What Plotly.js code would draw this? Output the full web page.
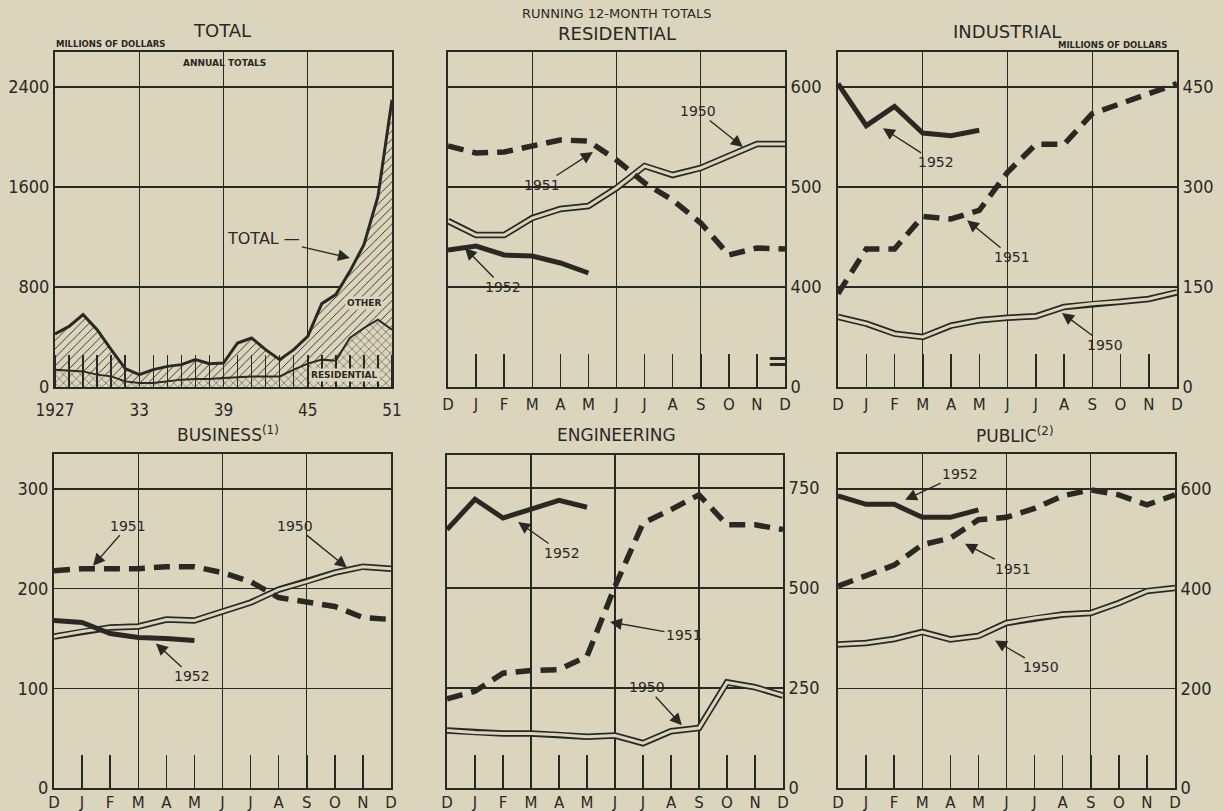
<!DOCTYPE html>
<html><head><meta charset="utf-8">
<script src="https://cdn.plot.ly/plotly-3.0.1.min.js"></script>
<style>html,body{margin:0;padding:0;background:#dcd5bd}</style>
</head><body>
<div id="chart" style="width:1224px;height:811px"></div>
<script>
// ---------- DATA ----------
const years = [1927,1928,1929,1930,1931,1932,1933,1934,1935,1936,1937,1938,1939,1940,1941,1942,1943,1944,1945,1946,1947,1948,1949,1950,1951];
const totalAnnual = [424,485,579,459,299,147,99,139,165,179,219,187,192,352,392,299,219,299,405,667,739,925,1139,1525,2299];
const residentialAnnual = [139,131,125,99,85,45,32,32,45,59,64,64,72,80,85,85,85,139,187,219,211,392,472,539,459];
const yearTickVals = [1927,1933,1939,1945,1951];
const yearTickText = ['1927','33','39','45','51'];

const months = ['D','J','F','M','A','M','J','J','A','S','O','N','D'];

const residential1950 = [466,452,452,469,478,481,499,521,512,519,531,543,543];
const residential1951 = [541,534,535,541,547,546,527,504,487,464,432,439,438];
const residential1952 = [437,441,432,431,424,414];

const industrial1950 = [105,95,80,75,92,100,104,106,120,125,128,132,142];
const industrial1951 = [140,207,207,256,252,265,322,364,364,410,425,440,455];
const industrial1952 = [455,392,421,381,377,385];

const business1950 = [152,157,161,162,169,168,177,186,199,207,216,222,220];
const business1951 = [218,220,220,220,222,222,216,207,191,186,182,171,169];
const business1952 = [168,166,155,151,150,148];

const engineering1950 = [144,139,136,136,133,128,131,112,142,150,264,252,231];
const engineering1951 = [223,242,287,294,296,329,504,662,696,733,658,658,646];
const engineering1952 = [646,722,675,697,719,702];

const public1950 = [288,291,299,313,298,305,331,341,348,351,371,395,401];
const public1951 = [405,425,447,488,501,538,543,561,586,598,588,568,588];
const public1952 = [586,569,569,543,543,558];

// ---------- STYLE ----------
const INK = '#2a2825';
const BG = '#dcd5bd';
const NUMFONT = {family:'DejaVu Sans Condensed, Liberation Sans Narrow, DejaVu Sans, sans-serif', size:18, color:INK};
const MONFONT = {family:'DejaVu Sans, sans-serif', size:15, color:INK};
const LBLFONT = {family:'DejaVu Sans, sans-serif', size:14, color:INK};
const monthIdx = months.map((m,i)=>i);

const traces = [];
// Panel 1
traces.push({x:years, y:residentialAnnual, xaxis:'x', yaxis:'y', type:'scatter', mode:'lines',
  line:{color:INK, width:2}, fill:'tozeroy', fillcolor:BG,
  fillpattern:{shape:'x', fgcolor:INK, bgcolor:BG, size:6, solidity:0.15}, hoverinfo:'skip'});
traces.push({x:years, y:totalAnnual, xaxis:'x', yaxis:'y', type:'scatter', mode:'lines',
  line:{color:INK, width:3}, fill:'tonexty', fillcolor:BG,
  fillpattern:{shape:'/', fgcolor:INK, bgcolor:BG, size:6, solidity:0.15}, hoverinfo:'skip'});

function addMonthly(k, s50, s51, s52){
  const xa = 'x'+k, ya = 'y'+k, xo = 'x'+(k+5);
  traces.push({x:monthIdx, y:s50, xaxis:xa, yaxis:ya, mode:'lines', line:{color:INK, width:6.5}, hoverinfo:'skip'});
  traces.push({x:monthIdx, y:s50, xaxis:xa, yaxis:ya, mode:'lines', line:{color:BG, width:3}, hoverinfo:'skip'});
  traces.push({x:monthIdx, y:s51, xaxis:xa, yaxis:ya, mode:'lines', line:{color:INK, width:5.5, dash:'16px,9px'}, hoverinfo:'skip'});
  traces.push({x:monthIdx.slice(0,s52.length), y:s52, xaxis:xo, yaxis:ya, mode:'lines', line:{color:INK, width:5}, hoverinfo:'skip'});
}
addMonthly(2, residential1950, residential1951, residential1952);
addMonthly(3, industrial1950, industrial1951, industrial1952);
addMonthly(4, business1950, business1951, business1952);
addMonthly(5, engineering1950, engineering1951, engineering1952);
addMonthly(6, public1950, public1951, public1952);

// ---------- LAYOUT ----------
const W = 1224, H = 811;
function dx(a,b){return [a/W, b/W];}
function dy(top,bot){return [1-bot/H, 1-top/H];}

const frame = {showline:true, mirror:true, linecolor:INK, linewidth:2, zeroline:false,
  showgrid:true, gridcolor:INK, gridwidth:1.4, fixedrange:true};

const layout = {width:W, height:H, margin:{l:0,r:0,t:0,b:0}, paper_bgcolor:BG, plot_bgcolor:BG,
  showlegend:false, annotations:[]};

// panel 1 axes
layout.xaxis = Object.assign({}, frame, {domain:dx(55,392), range:[1927,1951], anchor:'y',
  tickmode:'array', tickvals:yearTickVals, ticktext:yearTickText, ticks:'', ticklabelstandoff:7,
  tickfont:{...NUMFONT, size:17},
  minor:{tickmode:'linear', tick0:1927, dtick:1, ticks:'inside', ticklen:32, tickwidth:1.5, tickcolor:INK, showgrid:false}});
layout.yaxis = Object.assign({}, frame, {domain:dy(52,387), range:[0,2680], anchor:'x',
  tickmode:'array', tickvals:[0,800,1600,2400], ticks:'', tickfont:NUMFONT, side:'left'});

const panels = [
  {k:2, x:[448,785], y:[52,387], range:[300,635], tv:[300,400,500,600], tt:['0','400','500','600'], side:'right', so:7},
  {k:3, x:[838,1177], y:[52,387], range:[0,502.5], tv:[0,150,300,450], tt:['0','150','300','450'], side:'right', so:7},
  {k:4, x:[54,391], y:[454,788], range:[0,335], tv:[0,100,200,300], tt:['0','100','200','300'], side:'left', so:4},
  {k:5, x:[447,783], y:[455,788], range:[0,832.5], tv:[0,250,500,750], tt:['0','250','500','750'], side:'right', so:4},
  {k:6, x:[838,1175], y:[454,788], range:[0,670], tv:[0,200,400,600], tt:['0','200','400','600'], side:'right', so:4}
];
panels.forEach(p=>{
  layout['xaxis'+p.k] = Object.assign({}, frame, {domain:dx(p.x[0],p.x[1]), range:[0,12], anchor:'y'+p.k,
    tickmode:'array', tickvals:[3,6,9], showticklabels:false, ticks:''});
  layout['xaxis'+(p.k+5)] = {overlaying:'x'+p.k, anchor:'y'+p.k, side:'bottom', range:[0,12], fixedrange:true,
    tickmode:'array', tickvals:monthIdx, ticktext:months, ticks:'inside', ticklen:33, tickwidth:1.5, tickcolor:INK,
    ticklabelstandoff:p.so, showgrid:false, showline:false, zeroline:false, tickfont:MONFONT};
  layout['yaxis'+p.k] = Object.assign({}, frame, {domain:dy(p.y[0],p.y[1]), range:p.range, anchor:'x'+p.k,
    tickmode:'array', tickvals:p.tv, ticktext:p.tt, ticks:'', side:p.side, tickfont:NUMFONT});
});

const A = layout.annotations;
function paperText(text, x, y, size, extra){
  A.push(Object.assign({xref:'paper', yref:'paper', x:x/W, y:1-y/H, text:text, showarrow:false,
    xanchor:'center', yanchor:'middle', font:{family:'DejaVu Sans, sans-serif', size:size, color:INK}}, extra||{}));
}
function arrowLbl(k, text, x, y, ax, ay){
  A.push({xref:'x'+k, yref:'y'+k, x:x, y:y, ax:ax, ay:ay, text:text, showarrow:true,
    arrowhead:2, arrowsize:1.7, arrowwidth:1.4, arrowcolor:INK, standoff:0, font:LBLFONT});
}
// titles
paperText('TOTAL', 222, 30, 18);
paperText('<b>MILLIONS OF DOLLARS</b>', 110, 44, 8.5);
paperText('RUNNING 12-MONTH TOTALS', 617, 13, 13);
paperText('RESIDENTIAL', 617, 33, 18);
paperText('INDUSTRIAL', 1007, 32, 18);
paperText('<b>MILLIONS OF DOLLARS</b>', 1112, 45, 8.5);
paperText('BUSINESS<sup>(1)</sup>', 228, 434, 17);
paperText('ENGINEERING', 616, 435, 17);
paperText('PUBLIC<sup>(2)</sup>', 1015, 435, 17);

// panel 1 notes
A.push({xref:'x', yref:'y', x:1939.1, y:2592, text:'<b>ANNUAL TOTALS</b>', showarrow:false, font:{family:'DejaVu Sans, sans-serif', size:9, color:INK}});
A.push({xref:'x', yref:'y', x:1949, y:672, text:'<b>OTHER</b>', showarrow:false, bgcolor:BG, font:{family:'DejaVu Sans, sans-serif', size:9, color:INK}});
A.push({xref:'x', yref:'y', x:1947.6, y:96, text:'<b>RESIDENTIAL</b>', showarrow:false, bgcolor:BG, font:{family:'DejaVu Sans, sans-serif', size:9, color:INK}});
A.push({xref:'x', yref:'y', x:1948, y:1032, ax:-86, ay:-20, text:'TOTAL —', showarrow:true,
  arrowhead:2, arrowsize:1.7, arrowwidth:1.4, arrowcolor:INK, standoff:0, font:{family:'DejaVu Sans, sans-serif', size:16, color:INK}});

// residential
arrowLbl(2, '1950', 10.5, 540, -45, -36);
arrowLbl(2, '1951', 5.16, 535, -51, 33);
arrowLbl(2, '1952', 0.6, 439, 38, 39);
A.push({xref:'x2', yref:'y2', x:11.75, y:326, text:'<b>=</b>', showarrow:false, font:{family:'DejaVu Sans, sans-serif', size:26, color:INK}});
// industrial
arrowLbl(3, '1952', 1.59, 388, 53, 34);
arrowLbl(3, '1951', 4.57, 250, 45, 37);
arrowLbl(3, '1950', 7.93, 111, 43, 32);
// business
arrowLbl(4, '1951', 1.39, 223, 35, -40);
arrowLbl(4, '1950', 10.43, 221, -52, -42);
arrowLbl(4, '1952', 3.63, 145, 36, 33);
// engineering
arrowLbl(5, '1952', 2.54, 665, 44, 31);
arrowLbl(5, '1951', 5.82, 415, 74, 13);
arrowLbl(5, '1950', 8.39, 157, -35, -38);
// public
arrowLbl(6, '1952', 2.39, 578, 55, -26);
arrowLbl(6, '1951', 4.52, 490, 48, 25);
arrowLbl(6, '1950', 5.59, 296, 46, 27);

Plotly.newPlot('chart', traces, layout, {staticPlot:true, displayModeBar:false});
</script>
</body></html>
